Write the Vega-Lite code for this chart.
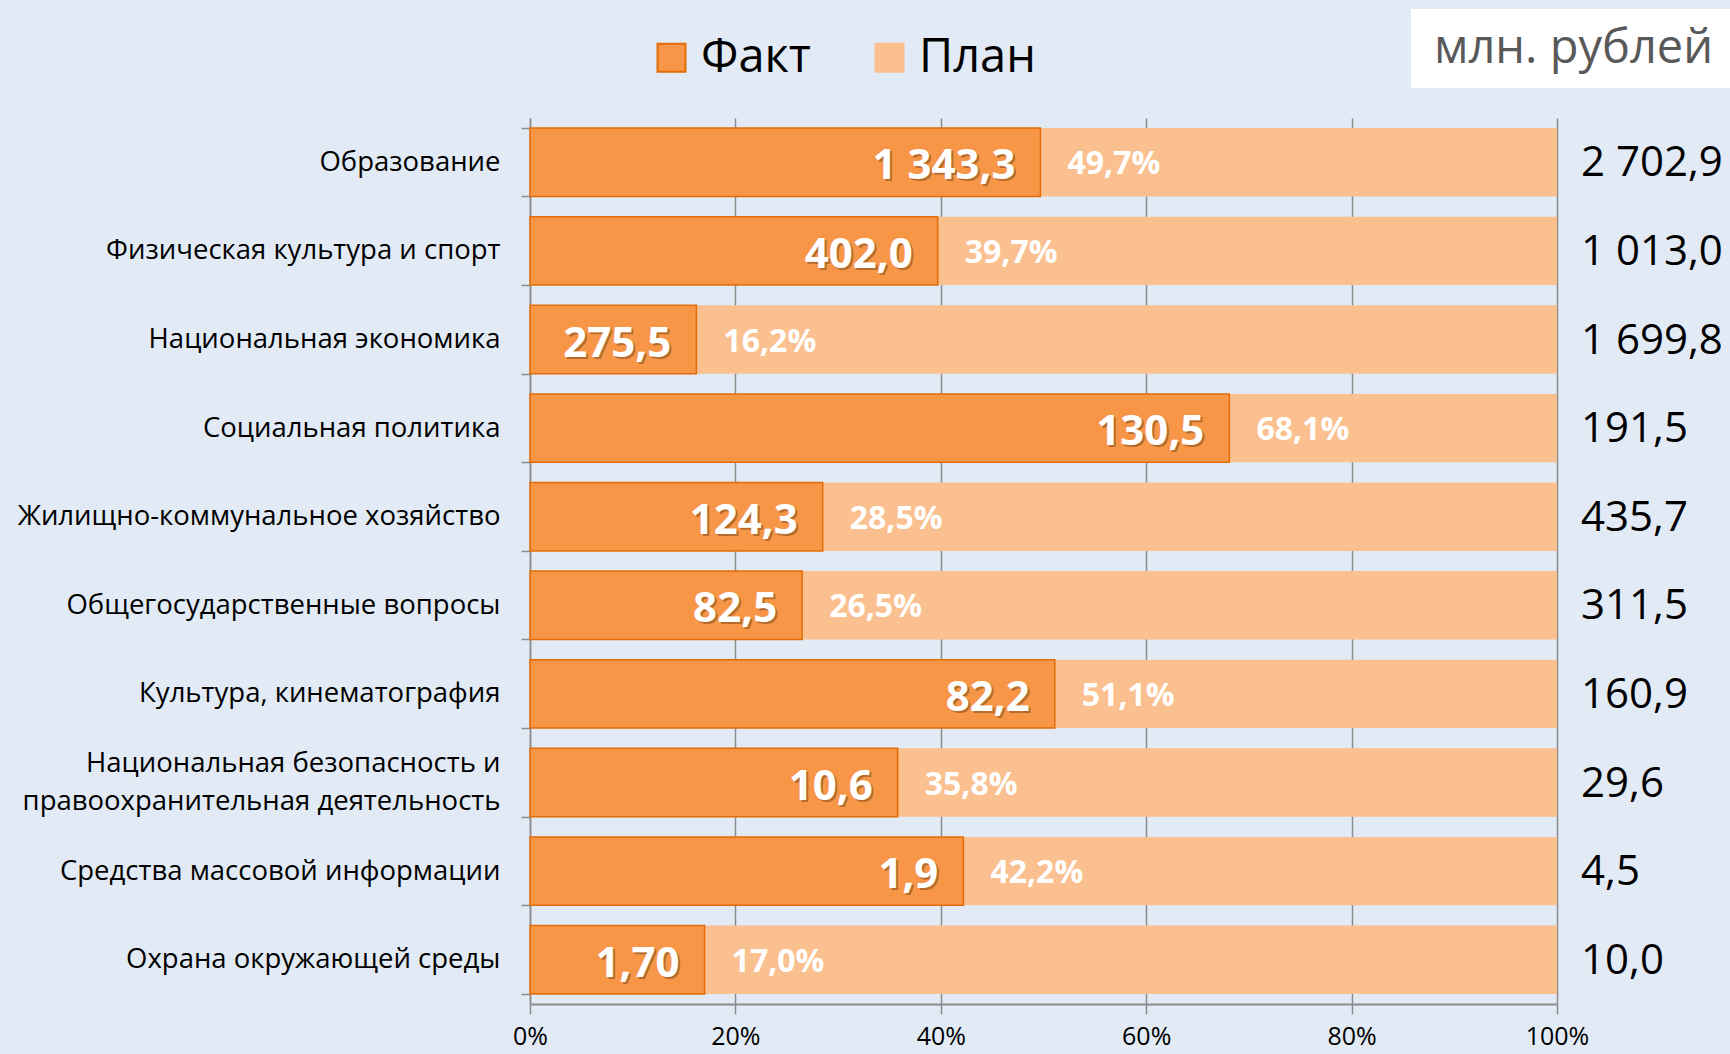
{
  "$schema": "https://vega.github.io/schema/vega-lite/v6.json",
  "autosize": "none",
  "width": 1027,
  "height": 886,
  "padding": {"left": 530, "top": 118, "right": 173, "bottom": 50},
  "background": "#e2eaf5",
  "config": {
    "view": {"stroke": null},
    "font": "Open Sans"
  },
  "data": {
    "values": [
      {"cat": "Образование", "pct": 0.497, "fact": "1 343,3", "plan": "2 702,9", "pctLabel": "49,7%"},
      {"cat": "Физическая культура и спорт", "pct": 0.397, "fact": "402,0", "plan": "1 013,0", "pctLabel": "39,7%"},
      {"cat": "Национальная экономика", "pct": 0.162, "fact": "275,5", "plan": "1 699,8", "pctLabel": "16,2%"},
      {"cat": "Социальная политика", "pct": 0.681, "fact": "130,5", "plan": "191,5", "pctLabel": "68,1%"},
      {"cat": "Жилищно-коммунальное хозяйство", "pct": 0.285, "fact": "124,3", "plan": "435,7", "pctLabel": "28,5%"},
      {"cat": "Общегосударственные вопросы", "pct": 0.265, "fact": "82,5", "plan": "311,5", "pctLabel": "26,5%"},
      {"cat": "Культура, кинематография", "pct": 0.511, "fact": "82,2", "plan": "160,9", "pctLabel": "51,1%"},
      {"cat": "Национальная безопасность и правоохранительная деятельность", "pct": 0.358, "fact": "10,6", "plan": "29,6", "pctLabel": "35,8%"},
      {"cat": "Средства массовой информации", "pct": 0.422, "fact": "1,9", "plan": "4,5", "pctLabel": "42,2%"},
      {"cat": "Охрана окружающей среды", "pct": 0.17, "fact": "1,70", "plan": "10,0", "pctLabel": "17,0%"}
    ]
  },
  "encoding": {
    "y": {
      "field": "cat",
      "type": "nominal",
      "sort": null,
      "scale": {"paddingInner": 0.228, "paddingOuter": 0.114},
      "axis": {
        "title": null,
        "domainColor": "#8c8c8c",
        "domainWidth": 1.5,
        "tickColor": "#8c8c8c",
        "tickWidth": 1.5,
        "tickSize": 9,
        "tickBand": "extent",
        "labelPadding": 21,
        "labelFont": "Open Sans",
        "labelFontSize": 27.5,
        "labelColor": "#000000",
        "labelLimit": 600,
        "labelLineHeight": 38,
        "labelExpr": "datum.value == 'Национальная безопасность и правоохранительная деятельность' ? ['Национальная безопасность и', 'правоохранительная деятельность'] : datum.value",
        "labelOffset": {
          "condition": {"test": "datum.value == 'Национальная безопасность и правоохранительная деятельность'", "value": -19},
          "value": 0
        }
      }
    }
  },
  "layer": [
    {
      "mark": {"type": "bar", "color": "#FAC090"},
      "encoding": {
        "x": {
          "datum": 1,
          "type": "quantitative",
          "scale": {"domain": [0, 1], "nice": false},
          "axis": {
            "title": null,
            "values": [0, 0.2, 0.4, 0.6, 0.8, 1],
            "format": ".0%",
            "grid": true,
            "gridColor": "#8c8c8c",
            "gridWidth": 1.5,
            "domainColor": "#8c8c8c",
            "domainWidth": 2,
            "tickColor": "#8c8c8c",
            "tickWidth": 1.5,
            "tickSize": 10,
            "labelPadding": 10,
            "labelFlush": false,
            "labelFont": "Open Sans",
            "labelFontSize": 25,
            "labelColor": "#000000"
          }
        },
        "color": {
          "datum": "План",
          "type": "nominal",
          "scale": {"domain": ["Факт", "План"], "range": ["#F79646", "#FAC090"]},
          "legend": {
            "title": null,
            "orient": "none",
            "direction": "horizontal",
            "legendX": 118,
            "legendY": -84,
            "symbolType": "square",
            "symbolSize": 784,
            "symbolOpacity": 1,
            "labelFont": "Open Sans",
            "labelFontSize": 47,
            "labelColor": "#000000",
            "labelOffset": 6,
            "columnPadding": 55,
            "padding": 0,
            "encode": {
              "symbols": {
                "update": {
                  "stroke": {"signal": "datum.value === 'Факт' ? '#E36C09' : '#FAC090'"},
                  "strokeWidth": {"value": 2}
                }
              }
            }
          }
        },
        "strokeDash": {
          "datum": "млн. рублей",
          "type": "nominal",
          "scale": {"range": [[1, 0]]},
          "legend": {
            "title": null,
            "orient": "none",
            "legendX": 881,
            "legendY": -109,
            "fillColor": "#ffffff",
            "padding": 16,
            "symbolSize": 0,
            "symbolOpacity": 0,
            "symbolStrokeWidth": 0,
            "labelOffset": -40,
            "labelLimit": 500,
            "labelFont": "Open Sans",
            "labelFontSize": 47,
            "labelColor": "#595959"
          }
        }
      }
    },
    {
      "mark": {"type": "bar", "stroke": "#E36C09", "strokeWidth": 1.5},
      "encoding": {
        "x": {"field": "pct", "type": "quantitative"},
        "color": {"datum": "Факт", "type": "nominal"}
      }
    },
    {
      "mark": {"type": "text", "align": "right", "baseline": "middle", "dx": -23, "dy": 6, "font": "Open Sans", "fontWeight": "bold", "fontSize": 42, "color": "#6b3a10", "opacity": 0.45},
      "encoding": {
        "x": {"field": "pct", "type": "quantitative"},
        "text": {"field": "fact"}
      }
    },
    {
      "mark": {"type": "text", "align": "right", "baseline": "middle", "dx": -25, "dy": 4, "font": "Open Sans", "fontWeight": "bold", "fontSize": 42, "color": "#ffffff"},
      "encoding": {
        "x": {"field": "pct", "type": "quantitative"},
        "text": {"field": "fact"}
      }
    },
    {
      "mark": {"type": "text", "align": "left", "baseline": "middle", "dx": 27, "dy": 2, "font": "Open Sans", "fontWeight": "bold", "fontSize": 32, "color": "#ffffff"},
      "encoding": {
        "x": {"field": "pct", "type": "quantitative"},
        "text": {"field": "pctLabel"}
      }
    },
    {
      "mark": {"type": "text", "align": "left", "baseline": "middle", "dx": 24, "dy": 1, "font": "Open Sans", "fontSize": 42, "color": "#000000"},
      "encoding": {
        "x": {"datum": 1, "type": "quantitative"},
        "text": {"field": "plan"}
      }
    }
  ]
}
